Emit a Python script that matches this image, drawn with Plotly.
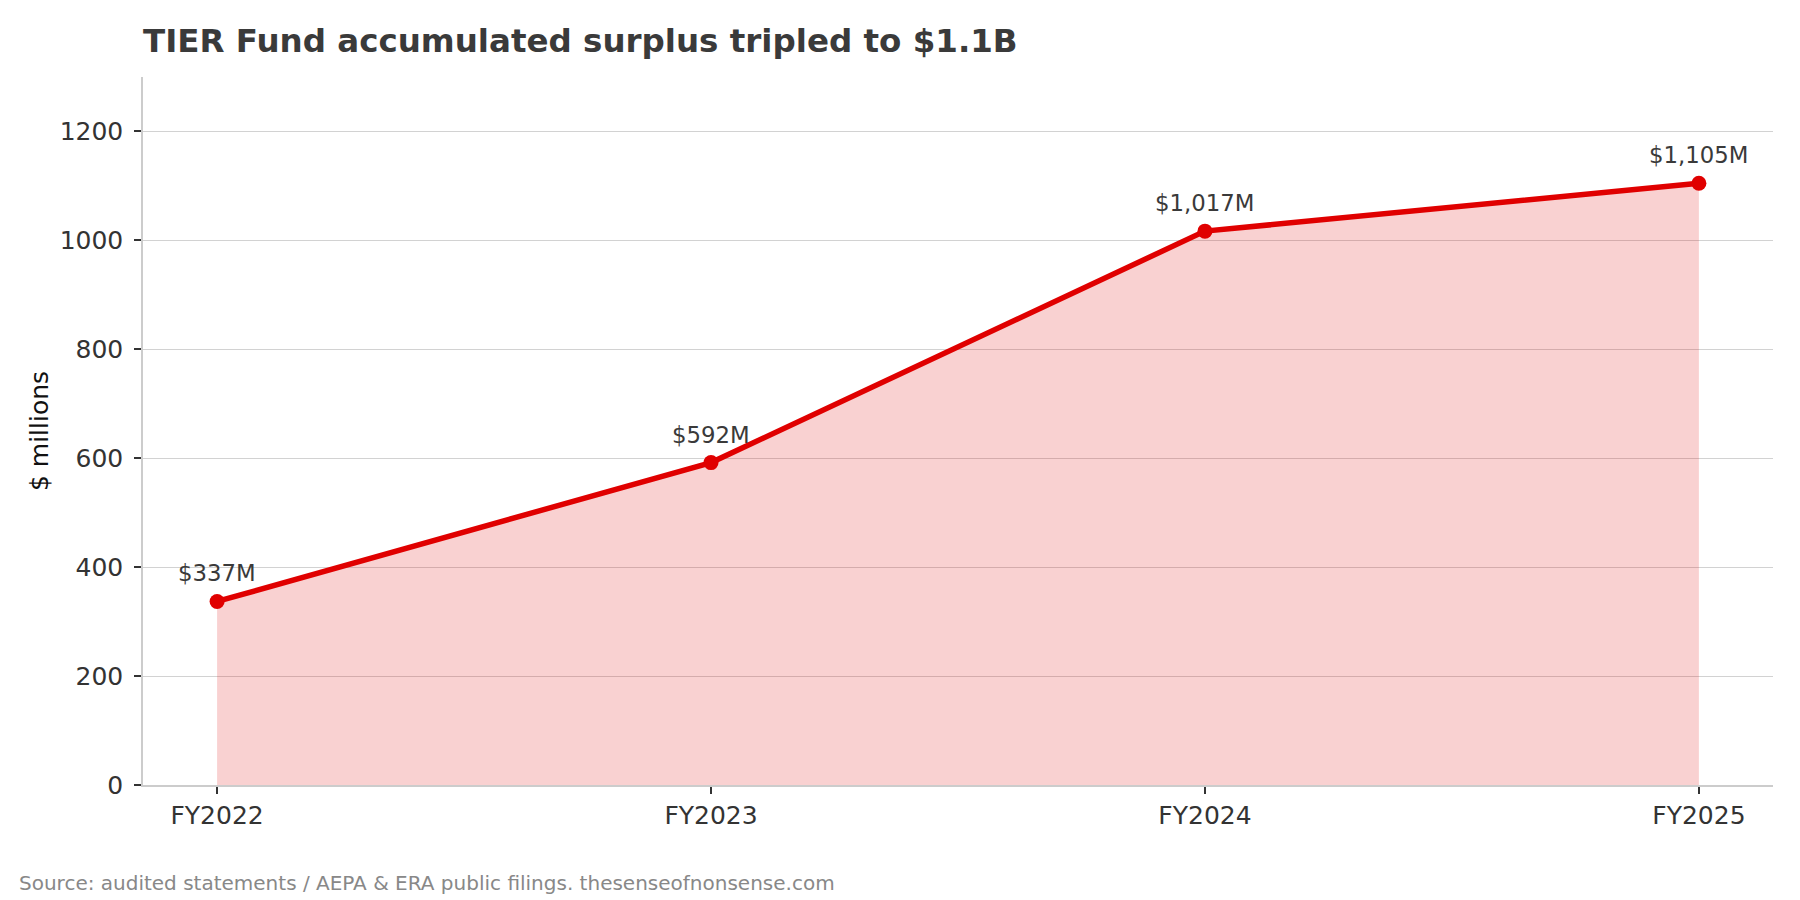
import plotly.graph_objects as go

# TIER fund accumulated surplus, $ millions
years = ["FY2022", "FY2023", "FY2024", "FY2025"]
surplus = [337, 592, 1017, 1105]
labels = ["$337M", "$592M", "$1,017M", "$1,105M"]
y_ticks = [0, 200, 400, 600, 800, 1000, 1200]

RED = "#e00000"
FONT = "DejaVu Sans"

fig = go.Figure()

fig.add_trace(go.Scatter(
    x=years, y=surplus,
    mode="lines+markers",
    line=dict(color=RED, width=5.5),
    marker=dict(color=RED, size=15),
    fill="tozeroy",
    fillcolor="rgba(224,0,0,0.18)",
    hoverinfo="x+y",
    showlegend=False,
))

# value labels above each point
for yr, val, lab in zip(years, surplus, labels):
    fig.add_annotation(x=yr, y=val, text=lab, showarrow=False,
                       yanchor="middle", yshift=28,
                       font=dict(family=FONT, size=22.8, color="#3a3a3a"))

fig.add_annotation(
    text="Source: audited statements / AEPA & ERA public filings. thesenseofnonsense.com",
    xref="paper", yref="paper", x=-0.0775, y=-0.138,
    xanchor="left", yanchor="middle", showarrow=False,
    font=dict(family=FONT, size=20, color="#888888"))

# page body adds ~8px offset, so margins are shifted up/left by 8
fig.update_layout(
    width=1800, height=900,
    margin=dict(l=135, r=35, t=69, b=123),
    paper_bgcolor="white", plot_bgcolor="white",
    font=dict(family=FONT, color="#333333"),
    title=dict(text="<b>TIER Fund accumulated surplus tripled to $1.1B</b>",
               xref="paper", x=0, xanchor="left",
               yref="container", y=1 - 33 / 900, yanchor="middle",
               font=dict(family=FONT, size=32.5, color="#3a3a3a")),
)

fig.update_xaxes(
    type="category", range=[-0.15, 3.15],
    showgrid=False, showline=True, linecolor="#cccccc", linewidth=1.5,
    ticks="outside", ticklen=7, tickwidth=1.5, tickcolor="#333333",
    tickfont=dict(family=FONT, size=25, color="#333333"),
    zeroline=False,
)

fig.update_yaxes(
    range=[0, 1300], tickvals=y_ticks,
    showgrid=True, gridcolor="#d2d2d2", gridwidth=1.2,
    showline=True, linecolor="#cccccc", linewidth=1.5,
    ticks="outside", ticklen=7, tickwidth=1.5, tickcolor="#333333",
    ticklabelstandoff=6,
    tickfont=dict(family=FONT, size=25, color="#333333"),
    zeroline=False,
    title=dict(text="$ millions", standoff=4,
               font=dict(family=FONT, size=25, color="#111111")),
)

fig.write_html("out.html")
